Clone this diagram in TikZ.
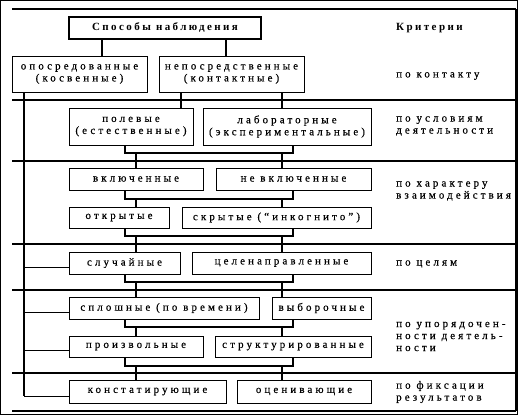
\documentclass[tikz,border=0pt]{standalone}
\usepackage{fontspec}
\setmainfont{Liberation Serif}[LetterSpace=28,FakeBold=0.4]
\newfontfamily\titlefont{Liberation Serif}[LetterSpace=22]
\begin{document}
\begin{tikzpicture}[x=1pt,y=-1pt,
  every node/.style={font=\fontsize{11}{12}\selectfont},
  box/.style={draw,line width=0.8pt,inner sep=0pt,align=center,fill=white},
  titlebox/.style={draw,line width=2pt,inner sep=0pt,align=center,fill=white,font=\titlefont\bfseries\fontsize{11}{12}\selectfont},
  crit/.style={anchor=west,inner sep=0pt,align=left},
  thickline/.style={line width=2pt},
  thinline/.style={line width=0.8pt},
  sep/.style={line width=2pt}]
\useasboundingbox (0,0) rectangle (518,415);
% outer frame
\draw[thinline] (0.5,0.5) rectangle (517.5,414.5);
% separators
\foreach \yy in {9,100,161,244,290,373,411}{
  \draw[sep] (12,\yy) -- (516,\yy);
}
\draw[sep] (516,9) -- (516,411);

% nodes
\node[titlebox,minimum width=192pt,minimum height=22pt] (top) at (165,28) {Способы наблюдения};
\node[box,minimum width=135pt,minimum height=36pt] (opo) at (79.5,74) {опосредованные\\(косвенные)};
\node[box,minimum width=145pt,minimum height=36pt] (nepo) at (231.5,74) {непосредственные\\(контактные)};
\node[box,minimum width=124pt,minimum height=37pt] (pol) at (131,126.5) {полевые\\(естественные)};
\node[box,minimum width=168pt,minimum height=37pt] (lab) at (287,126.5) {лабораторные\\(экспериментальные)};
\node[box,minimum width=134pt,minimum height=22pt] (vkl) at (136,179) {включенные};
\node[box,minimum width=155pt,minimum height=22pt] (nevkl) at (293.5,179) {не включенные};
\node[box,minimum width=100pt,minimum height=21pt] (otk) at (119,217.5) {открытые};
\node[box,minimum width=189pt,minimum height=21pt] (skr) at (276.5,217.5) {скрытые (“инкогнито”)};
\node[box,minimum width=111pt,minimum height=22pt] (sluch) at (124.5,263) {случайные};
\node[box,minimum width=179pt,minimum height=22pt] (tsel) at (281.5,263) {целенаправленные};
\node[box,minimum width=190pt,minimum height=22pt] (splo) at (164,308) {сплошные (по времени)};
\node[box,minimum width=99pt,minimum height=22pt] (vyb) at (321.5,308) {выборочные};
\node[box,minimum width=134pt,minimum height=21pt] (proiz) at (136,346.5) {произвольные};
\node[box,minimum width=156pt,minimum height=21pt] (strukt) at (293,346.5) {структурированные};
\node[box,minimum width=157pt,minimum height=23pt] (konst) at (147.5,391.5) {констатирующие};
\node[box,minimum width=134pt,minimum height=23pt] (otsen) at (304,391.5) {оценивающие};

% criteria
\node[crit,font=\titlefont\bfseries\fontsize{11}{12}\selectfont] (c0) at (396,28) {Критерии};
\node[crit] (c1) at (396,76) {по контакту};
\node[crit] (c2) at (396,126) {по условиям\\деятельности};
\node[crit] (c3) at (396,191) {по характеру\\взаимодействия};
\node[crit] (c4) at (396,264) {по целям};
\node[crit] (c5) at (396,336.5) {по упорядочен-\\ности деятель-\\ности};
\node[crit] (c6) at (396,392) {по фиксации\\результатов};

% connectors from title
\draw[thickline] ([xshift=-63pt]top.south) -- ([xshift=-63pt]top.south |- opo.north);
\draw[thickline] ([xshift=61pt]top.south) -- ([xshift=61pt]top.south |- nepo.north);
\draw[thickline] ([xshift=-50.5pt]nepo.south) -- ([xshift=-50.5pt]nepo.south |- pol.north);
\draw[thickline] ([xshift=50.5pt]nepo.south) -- ([xshift=50.5pt]nepo.south |- lab.north);

% trunk on the left
\coordinate (tr) at (24,0);
\draw[thickline] (tr |- opo.south) -- (24,396);
\draw[thinline] ([yshift=-4pt]sluch.west) -- ++(-45,0);
\draw[thinline] ([yshift=-4pt]splo.west) -- ++(-45,0);
\draw[thinline] ([yshift=-4pt]proiz.west) -- ++(-45,0);
\draw[thinline] ([yshift=-4.5pt]konst.west) -- ++(-45,0);

% brackets between rows
\coordinate (L) at (125,0);
\coordinate (R) at (293,0);
\coordinate (Lc) at (136,0);
\coordinate (Rc) at (282,0);
\foreach \a/\b/\c/\d/\h in {pol/lab/vkl/nevkl/153, vkl/nevkl/otk/skr/199, otk/skr/sluch/tsel/236, sluch/tsel/splo/vyb/282, splo/vyb/proiz/strukt/327, proiz/strukt/konst/otsen/366}{
  \coordinate (hh) at (0,\h);
  \draw[thickline] (\a.south -| L) -- (L |- hh) -- (R |- hh) -- (\b.south -| R);
  \draw[thickline] (Lc |- hh) -- (Lc |- \c.north);
  \draw[thickline] (Rc |- hh) -- (Rc |- \d.north);
}
\end{tikzpicture}
\end{document}
